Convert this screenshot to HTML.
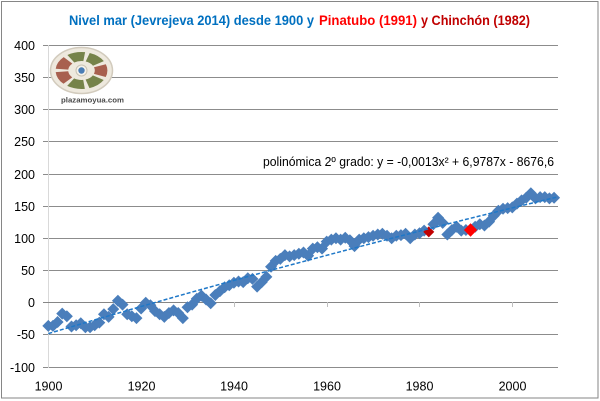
<!DOCTYPE html>
<html>
<head>
<meta charset="utf-8">
<style>
html,body{margin:0;padding:0;background:#fff;}
svg{display:block;}
text{font-family:"Liberation Sans",Arial,sans-serif;}
</style>
</head>
<body>
<svg width="600" height="401" viewBox="0 0 600 401" xmlns="http://www.w3.org/2000/svg">
<defs>
<path id="d" d="M0,-6 L6,0 L0,6 L-6,0Z"/>
</defs>
<rect x="0" y="0" width="600" height="401" fill="#fff"/>
<rect x="1.5" y="1.5" width="596.5" height="396.5" fill="none" stroke="#868686" stroke-width="1"/>

<text x="69" y="25" font-size="14" font-weight="bold" fill="#0070c0" textLength="245" lengthAdjust="spacingAndGlyphs">Nivel mar (Jevrejeva 2014) desde 1900 y</text>
<text x="319" y="25" font-size="14" font-weight="bold" fill="#ff0000" textLength="98" lengthAdjust="spacingAndGlyphs">Pinatubo (1991)</text>
<text x="421" y="25" font-size="14" font-weight="bold" fill="#c00000" textLength="109" lengthAdjust="spacingAndGlyphs">y Chinchón (1982)</text>

<g stroke="#8c8c8c" stroke-width="1">
<line x1="43" y1="45.5" x2="558" y2="45.5"/>
<line x1="43" y1="77.5" x2="558" y2="77.5"/>
<line x1="43" y1="109.5" x2="558" y2="109.5"/>
<line x1="43" y1="141.5" x2="558" y2="141.5"/>
<line x1="43" y1="174.5" x2="558" y2="174.5"/>
<line x1="43" y1="206.5" x2="558" y2="206.5"/>
<line x1="43" y1="238.5" x2="558" y2="238.5"/>
<line x1="43" y1="270.5" x2="558" y2="270.5"/>
<line x1="43" y1="334.5" x2="558" y2="334.5"/>
<line x1="43" y1="367.5" x2="558" y2="367.5"/>
</g>
<line x1="48.5" y1="45" x2="48.5" y2="368" stroke="#d9d9d9" stroke-width="1"/>
<line x1="43" y1="302.5" x2="558" y2="302.5" stroke="#868686" stroke-width="1"/>
<g stroke="#bfbfbf" stroke-width="1">
<line x1="141.5" y1="302" x2="141.5" y2="307"/>
<line x1="234.5" y1="302" x2="234.5" y2="307"/>
<line x1="327.5" y1="302" x2="327.5" y2="307"/>
<line x1="419.5" y1="302" x2="419.5" y2="307"/>
<line x1="512.5" y1="302" x2="512.5" y2="307"/>
</g>

<g font-size="12.5" fill="#000" text-anchor="end">
<text x="35" y="50">400</text>
<text x="35" y="82">350</text>
<text x="35" y="114">300</text>
<text x="35" y="146">250</text>
<text x="35" y="179">200</text>
<text x="35" y="211">150</text>
<text x="35" y="243">100</text>
<text x="35" y="275">50</text>
<text x="35" y="307">0</text>
<text x="35" y="339">-50</text>
<text x="35" y="372">-100</text>
</g>
<g font-size="12.5" fill="#000" text-anchor="middle">
<text x="48.5" y="390.5">1900</text>
<text x="141.5" y="390.5">1920</text>
<text x="234" y="390.5">1940</text>
<text x="327" y="390.5">1960</text>
<text x="419.5" y="390.5">1980</text>
<text x="512.5" y="390.5">2000</text>
</g>

<g>
<ellipse cx="81.5" cy="70.5" rx="31" ry="23" fill="#eee9de" stroke="#d2cbbd" stroke-width="1.5"/>
<g transform="translate(81.5,70.5) scale(1.4,1)" fill="none" stroke-width="9">
<circle r="14" stroke="#a8604f" stroke-dasharray="10 90.53" stroke-dashoffset="5"/>
<circle r="14" stroke="#76834a" stroke-dasharray="10 90.53" stroke-dashoffset="-7.57"/>
<circle r="14" stroke="#76834a" stroke-dasharray="10 90.53" stroke-dashoffset="-20.13"/>
<circle r="14" stroke="#a8604f" stroke-dasharray="10 90.53" stroke-dashoffset="-32.7"/>
<circle r="14" stroke="#a8604f" stroke-dasharray="10 90.53" stroke-dashoffset="-45.27"/>
<circle r="14" stroke="#76834a" stroke-dasharray="10 90.53" stroke-dashoffset="-57.83"/>
<circle r="14" stroke="#76834a" stroke-dasharray="10 90.53" stroke-dashoffset="-70.4"/>
<circle r="14" stroke="#a8604f" stroke-dasharray="10 90.53" stroke-dashoffset="-82.96"/>
</g>
<circle cx="81.5" cy="70.5" r="5.5" fill="#f4f1ea" stroke="#c9c2b2" stroke-width="1"/>
<circle cx="81.5" cy="70.5" r="3.2" fill="#4a7db5"/>
<text x="61" y="102.5" font-size="7" font-weight="bold" fill="#4a4a4a" textLength="63" lengthAdjust="spacingAndGlyphs">plazamoyua.com</text>
</g>

<text x="263" y="166" font-size="12.5" fill="#000" textLength="291" lengthAdjust="spacingAndGlyphs">polinómica 2º grado: y = -0,0013x² + 6,9787x - 8676,6</text>

<g fill="#4a7ebb">
<use href="#d" x="48.3" y="325.9"/>
<use href="#d" x="52.94" y="325.9"/>
<use href="#d" x="57.58" y="322.0"/>
<use href="#d" x="62.22" y="313.6"/>
<use href="#d" x="66.86" y="316.2"/>
<use href="#d" x="71.5" y="326.5"/>
<use href="#d" x="76.14" y="325.2"/>
<use href="#d" x="80.78" y="323.3"/>
<use href="#d" x="85.42" y="327.2"/>
<use href="#d" x="90.06" y="327.2"/>
<use href="#d" x="94.7" y="325.2"/>
<use href="#d" x="99.34" y="322.6"/>
<use href="#d" x="103.98" y="314.3"/>
<use href="#d" x="108.62" y="316.9"/>
<use href="#d" x="113.26" y="309.1"/>
<use href="#d" x="117.9" y="300.8"/>
<use href="#d" x="122.54" y="304.6"/>
<use href="#d" x="127.18" y="314.3"/>
<use href="#d" x="131.82" y="316.2"/>
<use href="#d" x="136.46" y="318.1"/>
<use href="#d" x="141.1" y="308.5"/>
<use href="#d" x="145.74" y="302.7"/>
<use href="#d" x="150.38" y="305.3"/>
<use href="#d" x="155.02" y="311.1"/>
<use href="#d" x="159.66" y="314.3"/>
<use href="#d" x="164.3" y="316.9"/>
<use href="#d" x="168.94" y="313.0"/>
<use href="#d" x="173.58" y="310.4"/>
<use href="#d" x="178.22" y="313.0"/>
<use href="#d" x="182.86" y="318.1"/>
<use href="#d" x="187.5" y="307.2"/>
<use href="#d" x="192.14" y="304.6"/>
<use href="#d" x="196.78" y="298.8"/>
<use href="#d" x="201.42" y="295.6"/>
<use href="#d" x="206.06" y="299.5"/>
<use href="#d" x="210.7" y="303.3"/>
<use href="#d" x="215.34" y="295.0"/>
<use href="#d" x="219.98" y="291.1"/>
<use href="#d" x="224.62" y="287.3"/>
<use href="#d" x="229.26" y="285.3"/>
<use href="#d" x="233.9" y="282.7"/>
<use href="#d" x="238.54" y="281.5"/>
<use href="#d" x="243.18" y="282.1"/>
<use href="#d" x="247.82" y="278.2"/>
<use href="#d" x="252.46" y="278.9"/>
<use href="#d" x="257.1" y="286.6"/>
<use href="#d" x="261.74" y="282.1"/>
<use href="#d" x="266.38" y="276.9"/>
<use href="#d" x="271.02" y="266.7"/>
<use href="#d" x="275.66" y="260.9"/>
<use href="#d" x="280.3" y="258.9"/>
<use href="#d" x="284.94" y="255.1"/>
<use href="#d" x="289.58" y="256.4"/>
<use href="#d" x="294.22" y="255.1"/>
<use href="#d" x="298.86" y="253.8"/>
<use href="#d" x="303.5" y="252.5"/>
<use href="#d" x="308.14" y="255.7"/>
<use href="#d" x="312.78" y="248.6"/>
<use href="#d" x="317.42" y="247.3"/>
<use href="#d" x="322.06" y="248.6"/>
<use href="#d" x="326.7" y="241.6"/>
<use href="#d" x="331.34" y="239.6"/>
<use href="#d" x="335.98" y="238.3"/>
<use href="#d" x="340.62" y="239.6"/>
<use href="#d" x="345.26" y="237.7"/>
<use href="#d" x="349.9" y="240.3"/>
<use href="#d" x="354.54" y="246.1"/>
<use href="#d" x="359.18" y="239.6"/>
<use href="#d" x="363.82" y="238.3"/>
<use href="#d" x="368.46" y="237.1"/>
<use href="#d" x="373.1" y="235.8"/>
<use href="#d" x="377.74" y="234.5"/>
<use href="#d" x="382.38" y="233.8"/>
<use href="#d" x="387.02" y="235.8"/>
<use href="#d" x="391.66" y="238.3"/>
<use href="#d" x="396.3" y="235.8"/>
<use href="#d" x="400.94" y="235.1"/>
<use href="#d" x="405.58" y="233.8"/>
<use href="#d" x="410.22" y="238.3"/>
<use href="#d" x="414.86" y="234.5"/>
<use href="#d" x="419.5" y="233.2"/>
<use href="#d" x="424.14" y="230.6"/>
<use href="#d" x="433.42" y="224.2"/>
<use href="#d" x="438.06" y="217.7"/>
<use href="#d" x="442.7" y="222.9"/>
<use href="#d" x="447.34" y="234.5"/>
<use href="#d" x="451.98" y="230.0"/>
<use href="#d" x="456.62" y="226.8"/>
<use href="#d" x="461.26" y="230.6"/>
<use href="#d" x="465.9" y="230.0"/>
<use href="#d" x="475.18" y="226.8"/>
<use href="#d" x="479.82" y="224.2"/>
<use href="#d" x="484.46" y="225.5"/>
<use href="#d" x="489.1" y="221.6"/>
<use href="#d" x="493.74" y="215.8"/>
<use href="#d" x="498.38" y="210.7"/>
<use href="#d" x="503.02" y="208.7"/>
<use href="#d" x="507.66" y="208.1"/>
<use href="#d" x="512.3" y="207.4"/>
<use href="#d" x="516.94" y="203.6"/>
<use href="#d" x="521.58" y="200.4"/>
<use href="#d" x="526.22" y="197.8"/>
<use href="#d" x="530.86" y="193.3"/>
<use href="#d" x="535.5" y="198.4"/>
<use href="#d" x="540.14" y="197.1"/>
<use href="#d" x="544.78" y="197.1"/>
<use href="#d" x="549.42" y="198.4"/>
<use href="#d" x="554.06" y="197.8"/>
</g>
<path d="M428.78,226.4 L434.3,231.9 L428.78,237.4 L423.3,231.9Z" fill="#c00000"/>
<path d="M470.54,223.3 L477.2,230 L470.54,236.7 L463.9,230Z" fill="#ff0000"/>

<polyline points="48.3,333.6 94.7,319.9 141.1,306.5 187.5,293.3 233.9,280.4 280.3,267.7 326.7,255.3 373.1,243.1 419.5,231.1 465.9,219.4 512.3,207.9 556.4,197.2" fill="none" stroke="#1f78c8" stroke-width="1.5" stroke-dasharray="4 2"/>
</svg>
</body>
</html>
